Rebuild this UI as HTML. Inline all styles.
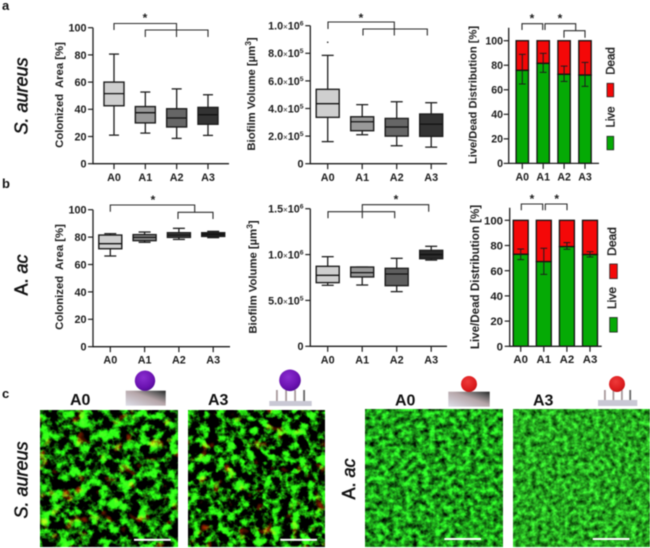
<!DOCTYPE html>
<html lang="en">
<head>
<meta charset="utf-8">
<title>Biofilm charts</title>
<style>
html,body{margin:0;padding:0;background:#fff;width:650px;height:548px;overflow:hidden}
svg{display:block;font-family:"Liberation Sans",sans-serif;filter:blur(.45px)}
</style>
</head>
<body>
<svg id="figure" width="650" height="548" viewBox="0 0 650 548" xmlns="http://www.w3.org/2000/svg">
<defs>
<filter id="saureus" x="0" y="0" width="100%" height="100%" color-interpolation-filters="sRGB">
  <feTurbulence type="fractalNoise" baseFrequency=".1" numOctaves="5" seed="7" result="n"/>
  <feColorMatrix in="n" type="matrix" values=".7 0 0 0 -.29  4.2 0 0 0 -1.74  .35 0 0 0 -.15  0 0 0 0 1" result="g"/>
  <feTurbulence type="fractalNoise" baseFrequency=".08" numOctaves="2" seed="21" result="m"/>
  <feColorMatrix in="m" type="matrix" values="3 0 0 0 -1.85  .8 0 0 0 -.5  0 0 0 0 0  0 0 0 0 1" result="r"/>
  <feBlend in="g" in2="r" mode="screen"/>
</filter>
<filter id="saureus2" x="0" y="0" width="100%" height="100%" color-interpolation-filters="sRGB">
  <feTurbulence type="fractalNoise" baseFrequency=".11" numOctaves="5" seed="31" result="n"/>
  <feColorMatrix in="n" type="matrix" values=".7 0 0 0 -.3  4.2 0 0 0 -1.8  .35 0 0 0 -.16  0 0 0 0 1" result="g"/>
  <feTurbulence type="fractalNoise" baseFrequency=".08" numOctaves="2" seed="5" result="m"/>
  <feColorMatrix in="m" type="matrix" values="3 0 0 0 -1.9  .8 0 0 0 -.52  0 0 0 0 0  0 0 0 0 1" result="r"/>
  <feBlend in="g" in2="r" mode="screen"/>
</filter>
<filter id="aac" x="0" y="0" width="100%" height="100%" color-interpolation-filters="sRGB">
  <feTurbulence type="fractalNoise" baseFrequency=".17" numOctaves="4" seed="11"/>
  <feColorMatrix type="matrix" values=".35 0 0 0 -.06  1.7 0 0 0 -.23  .3 0 0 0 -.05  0 0 0 0 1"/>
</filter>
<filter id="aac2" x="0" y="0" width="100%" height="100%" color-interpolation-filters="sRGB">
  <feTurbulence type="fractalNoise" baseFrequency=".19" numOctaves="4" seed="42"/>
  <feColorMatrix type="matrix" values=".4 0 0 0 -.05  1.35 0 0 0 -.02  .35 0 0 0 -.05  0 0 0 0 1"/>
</filter>
<linearGradient id="flat-surface" x1="0" y1="1" x2="1" y2="0">
  <stop offset="0" stop-color="#dfe0ea"/><stop offset=".55" stop-color="#b5a5a8"/><stop offset=".85" stop-color="#555"/><stop offset="1" stop-color="#222"/>
</linearGradient>
<radialGradient id="purple-ball" cx=".42" cy=".35" r=".7">
  <stop offset="0" stop-color="#8a2ed0"/><stop offset=".7" stop-color="#6a12b0"/><stop offset="1" stop-color="#4d0a90"/>
</radialGradient>
<radialGradient id="red-ball" cx=".42" cy=".35" r=".7">
  <stop offset="0" stop-color="#ee3a3a"/><stop offset=".7" stop-color="#dc1c1e"/><stop offset="1" stop-color="#bb1416"/>
</radialGradient>
</defs>
<rect width="650" height="548" fill="#fff"/>

<text x="2" y="10" font-size="13" font-weight="bold" fill="#111">a</text>
<text x="2" y="188" font-size="13" font-weight="bold" fill="#111">b</text>
<text x="2" y="398" font-size="13" font-weight="bold" fill="#111">c</text>

<text transform="translate(27.5,96) rotate(-90)" text-anchor="middle" font-size="18" font-style="italic" stroke="#111" stroke-width=".5" fill="#111">S. aureus</text>
<text transform="translate(27.5,275) rotate(-90)" text-anchor="middle" font-size="18" stroke="#111" stroke-width=".5" fill="#111">A. <tspan font-style="italic">ac</tspan></text>
<text transform="translate(27.5,480) rotate(-90)" text-anchor="middle" font-size="18" font-style="italic" stroke="#111" stroke-width=".5" fill="#111">S. aureus</text>
<text transform="translate(355,479) rotate(-90)" text-anchor="middle" font-size="18" stroke="#111" stroke-width=".5" fill="#111">A. <tspan font-style="italic">ac</tspan></text>

<g id="charts"></g>

<g>
  <text x="70" y="405" font-size="16" font-weight="bold" fill="#111">A0</text>
  <text x="208" y="405" font-size="16" font-weight="bold" fill="#111">A3</text>
  <text x="395" y="405.5" font-size="16" font-weight="bold" fill="#111">A0</text>
  <text x="533" y="405.5" font-size="16" font-weight="bold" fill="#111">A3</text>

  <rect x="40" y="410" width="137.7" height="136.7" filter="url(#saureus)"/>
  <rect x="188.3" y="410" width="136.7" height="136.7" filter="url(#saureus2)"/>
  <rect x="365" y="409.3" width="137.7" height="137.4" filter="url(#aac)"/>
  <rect x="513" y="409.3" width="137" height="137.4" filter="url(#aac2)"/>

  <rect x="134" y="538.8" width="36.7" height="2" fill="#fff"/>
  <rect x="280.3" y="538.8" width="36.7" height="2" fill="#fff"/>
  <rect x="444.3" y="538" width="36.7" height="2" fill="#fff"/>
  <rect x="592.7" y="538" width="36.7" height="2" fill="#fff"/>

  <g>
    <rect x="125.7" y="390.7" width="40" height="15" fill="url(#flat-surface)"/>
    <circle cx="145" cy="380.7" r="10.2" fill="url(#purple-ball)"/>
  </g>
  <g fill="#a89a9c">
    <rect x="276" y="390" width="1.8" height="12"/>
    <rect x="285.2" y="390" width="1.8" height="12"/>
    <rect x="294.2" y="390" width="1.8" height="12"/>
    <rect x="303.2" y="390" width="1.8" height="12" fill="#666"/>
    <rect x="269.3" y="401" width="42.4" height="5" fill="#c9c8d4"/>
    <circle cx="290" cy="380.3" r="10.8" fill="url(#purple-ball)"/>
  </g>
  <g>
    <rect x="448.3" y="391.7" width="41.4" height="15" fill="url(#flat-surface)"/>
    <circle cx="469" cy="384" r="8" fill="url(#red-ball)"/>
  </g>
  <g fill="#a89a9c">
    <rect x="604" y="390" width="1.8" height="11"/>
    <rect x="612.5" y="390" width="1.8" height="11"/>
    <rect x="621" y="390" width="1.8" height="11"/>
    <rect x="629.3" y="390" width="1.8" height="11" fill="#666"/>
    <rect x="598" y="400" width="39.3" height="6" fill="#c9c8d4"/>
    <circle cx="617" cy="384" r="8" fill="url(#red-ball)"/>
  </g>
</g>
</svg>
<script>
const categories = ['A0', 'A1', 'A2', 'A3'];

const areaTicks = [0, 20, 40, 60, 80, 100];
const areaTickLabels = ['0', '20', '40', '60', '80', '100'];
const volumeATicks = [0, 2e5, 4e5, 6e5, 8e5, 1e6];
const volumeATickLabels = ['0', '2.0|5', '4.0|5', '6.0|5', '8.0|5', '1.0|6'];
const volumeBTicks = [0, 5e5, 1e6, 1.5e6];
const volumeBTickLabels = ['0', '5.0|5', '1.0|6', '1.5|6'];

const saAreaMin = [21, 22.5, 18.6, 20.8];
const saAreaQ1 = [42.6, 30, 27, 29];
const saAreaMedian = [51.5, 37.5, 33.6, 36];
const saAreaQ3 = [60, 42, 40.4, 41.4];
const saAreaMax = [80.6, 52.7, 55, 50.7];

const saVolumeMin = [1.6e5, 2.1e5, 1.3e5, 1.2e5];
const saVolumeQ1 = [3.36e5, 2.39e5, 2.0e5, 1.98e5];
const saVolumeMedian = [4.35e5, 3.04e5, 2.66e5, 2.87e5];
const saVolumeQ3 = [5.39e5, 3.4e5, 3.28e5, 3.6e5];
const saVolumeMax = [7.85e5, 4.28e5, 4.49e5, 4.42e5];
const saVolumeOutliers = [8.8e5, null, null, null];

const saLive = [75.8, 81.5, 72.6, 72];
const saLiveErrLow = [64.7, 74.2, 66.8, 62.8];
const saLiveErrHigh = [88.9, 89.7, 79.3, 82.3];

const acAreaMin = [66.2, 76.2, 78.3, 79.6];
const acAreaQ1 = [71.5, 77.4, 79.8, 80.5];
const acAreaMedian = [75.2, 79.8, 81.5, 82];
const acAreaQ3 = [81.5, 81.8, 83.2, 83.2];
const acAreaMax = [82.5, 83.7, 86.4, 84.2];

const acVolumeMin = [6.65e5, 6.68e5, 5.96e5, 9.4e5];
const acVolumeQ1 = [6.94e5, 7.56e5, 6.61e5, 9.55e5];
const acVolumeMedian = [7.74e5, 8.03e5, 7.88e5, 1.0e6];
const acVolumeQ3 = [8.72e5, 8.64e5, 8.5e5, 1.046e6];
const acVolumeMax = [9.77e5, 8.64e5, 9.59e5, 1.09e6];

const acLive = [73, 67.2, 79.1, 72.8];
const acLiveErrLow = [68.8, 57.1, 77, 70.9];
const acLiveErrHigh = [77.2, 77.8, 82.3, 75.1];

const DARK = '#1c1c1c';
const NS = 'http://www.w3.org/2000/svg';
const chartsRoot = document.getElementById('charts');

function make(parent, tag, name, attrs, text) {
  const el = document.createElementNS(NS, tag);
  
  
  for (const k in attrs) el.setAttribute(k, attrs[k]);
  if (text !== undefined) el.textContent = text;
  parent.appendChild(el);
  return el;
}
function linear(d0, d1, r0, r1) {
  return function (v) { return r0 + (v - d0) / (d1 - d0) * (r1 - r0); };
}
function line(g, name, x1, y1, x2, y2, w, color) {
  return make(g, 'line', name, { x1: x1, y1: y1, x2: x2, y2: y2, stroke: color || DARK, 'stroke-width': w || 1.2 });
}
function tickText(g, label, x, y, size) {
  const t = make(g, 'text', 'y-tick-label', { x: x, y: y, 'text-anchor': 'end', 'font-size': size, 'font-weight': 'bold', fill: DARK });
  const parts = label.split('|');
  if (parts.length === 1) { t.textContent = label; return; }
  const a = document.createElementNS(NS, 'tspan');
  a.textContent = parts[0];
  t.appendChild(a);
  const b = document.createElementNS(NS, 'tspan');
  b.setAttribute('font-size', size - 3);
  b.setAttribute('font-weight', 'normal');
  b.textContent = '\u00d7';
  t.appendChild(b);
  const c = document.createElementNS(NS, 'tspan');
  c.textContent = '10';
  t.appendChild(c);
  const d = document.createElementNS(NS, 'tspan');
  d.setAttribute('font-size', size - 4);
  d.setAttribute('dy', -4);
  d.textContent = parts[1];
  t.appendChild(d);
}
function axes(g, c, yScale, xScale) {
  line(g, 'y-axis', c.axisX, c.axisTop, c.axisX, c.y0 + .6, 1.3);
  line(g, 'x-axis', c.axisX, c.y0, c.xEnd, c.y0, 1.3);
  c.ticks.forEach(function (v, i) {
    const y = yScale(v);
    line(g, 'y-tick', c.axisX - 5, y, c.axisX, y, 1.2);
    tickText(g, c.tickLabels[i], c.labelX, y + c.fontSize * .36, c.fontSize);
  });
  categories.forEach(function (cat, i) {
    const x = xScale(i);
    line(g, 'x-tick', x, c.y0, x, c.y0 + 5.5, 1.2);
    make(g, 'text', 'x-tick-label', { x: x, y: c.xLabelY, 'text-anchor': 'middle', 'font-size': c.fontSize, 'font-weight': 'bold', fill: DARK }, cat);
  });
}
function yTitle(g, x, y, size, html, sup, tail) {
  const t = make(g, 'text', 'y-axis-title', { transform: 'translate(' + x + ',' + y + ') rotate(-90)', 'text-anchor': 'middle', 'font-size': size, 'font-weight': 'bold', fill: DARK, 'xml:space': 'preserve' });
  t.style.whiteSpace = 'pre';
  t.appendChild(document.createTextNode(html));
  if (sup) {
    const s = document.createElementNS(NS, 'tspan');
    s.setAttribute('font-size', size - 3);
    s.setAttribute('dy', -4);
    s.textContent = sup;
    t.appendChild(s);
    const e = document.createElementNS(NS, 'tspan');
    e.setAttribute('dy', 4);
    e.textContent = tail;
    t.appendChild(e);
  }
}
function bracket(g, x1, x2, y, legL, legR) {
  make(g, 'path', 'significance-bracket', { d: 'M' + x1 + ' ' + legL + 'V' + y + 'H' + x2 + 'V' + legR, fill: 'none', stroke: '#2a2a2a', 'stroke-width': 1.1 });
}
function star(g, x, y) {
  make(g, 'text', 'significance-star', { x: x, y: y, 'text-anchor': 'middle', 'font-size': 12, 'font-weight': 'bold', fill: DARK }, '*');
}
function boxChart(c) {
  const g = make(chartsRoot, 'g', c.name, {});
  const yScale = linear(0, c.domainMax, c.y0, c.yMaxPx);
  const xScale = function (i) { return c.xFirst + c.xStep * i; };
  axes(g, c, yScale, xScale);
  categories.forEach(function (cat, i) {
    const x = xScale(i);
    const box = make(g, 'g', 'box-' + cat.toLowerCase(), {});
    line(box, 'whisker', x, yScale(c.min[i]), x, yScale(c.max[i]), 1.3);
    line(box, 'whisker-cap-low', x - c.capW / 2, yScale(c.min[i]), x + c.capW / 2, yScale(c.min[i]), 1.3);
    line(box, 'whisker-cap-high', x - c.capW / 2, yScale(c.max[i]), x + c.capW / 2, yScale(c.max[i]), 1.3);
    make(box, 'rect', 'box-body', { x: x - c.boxW / 2, y: yScale(c.q3[i]), width: c.boxW, height: yScale(c.q1[i]) - yScale(c.q3[i]), fill: c.fills[i], stroke: DARK, 'stroke-width': 1.4 });
    line(box, 'median-line', x - c.boxW / 2, yScale(c.median[i]), x + c.boxW / 2, yScale(c.median[i]), 1.3, '#111');
    if (c.outliers && c.outliers[i] !== null) {
      make(box, 'circle', 'outlier-point', { cx: x, cy: yScale(c.outliers[i]), r: .8, fill: DARK });
    }
  });
  return g;
}
function stackChart(c) {
  const g = make(chartsRoot, 'g', c.name, {});
  const yScale = linear(0, 100, c.y0, c.yMaxPx);
  const xScale = function (i) { return c.xFirst + c.xStep * i; };
  categories.forEach(function (cat, i) {
    const x = xScale(i);
    make(g, 'rect', 'dead-bar-' + cat.toLowerCase(), { x: x - c.barW / 2, y: yScale(100), width: c.barW, height: yScale(c.live[i]) - yScale(100), fill: '#f40808', stroke: '#111', 'stroke-width': 1.3 });
    make(g, 'rect', 'live-bar-' + cat.toLowerCase(), { x: x - c.barW / 2, y: yScale(c.live[i]), width: c.barW, height: yScale(0) - yScale(c.live[i]), fill: '#05aa05', stroke: '#111', 'stroke-width': 1.3 });
    line(g, 'error-bar', x, yScale(c.errLow[i]), x, yScale(c.errHigh[i]), 1);
    line(g, 'error-cap-low', x - 3.4, yScale(c.errLow[i]), x + 3.4, yScale(c.errLow[i]), 1);
    line(g, 'error-cap-high', x - 3.4, yScale(c.errHigh[i]), x + 3.4, yScale(c.errHigh[i]), 1);
  });
  axes(g, c, yScale, xScale);
  return g;
}
function legend(g, swatchX, swatchW, deadY, liveY, swatchH, textX, deadTextY, liveTextY, size) {
  make(g, 'rect', 'legend-swatch-dead', { x: swatchX, y: deadY, width: swatchW, height: swatchH, fill: '#f40808', stroke: '#222', 'stroke-width': .8 });
  make(g, 'rect', 'legend-swatch-live', { x: swatchX, y: liveY, width: swatchW, height: swatchH, fill: '#05aa05', stroke: '#222', 'stroke-width': .8 });
  make(g, 'text', 'legend-label-dead', { transform: 'translate(' + textX + ',' + deadTextY + ') rotate(-90)', 'text-anchor': 'middle', 'font-size': size, fill: DARK, stroke: DARK, 'stroke-width': .4 }, 'Dead');
  make(g, 'text', 'legend-label-live', { transform: 'translate(' + textX + ',' + liveTextY + ') rotate(-90)', 'text-anchor': 'middle', 'font-size': size, fill: DARK, stroke: DARK, 'stroke-width': .4 }, 'Live');
}

const g1 = boxChart({ name: 'colonized-area-aureus-chart', axisX: 93, axisTop: 27.7, y0: 163.7, yMaxPx: 27.7, domainMax: 100, xFirst: 114, xStep: 31.33, xEnd: 229, boxW: 20, capW: 10, labelX: 86.5, xLabelY: 181, fontSize: 10.8, ticks: areaTicks, tickLabels: areaTickLabels, min: saAreaMin, q1: saAreaQ1, median: saAreaMedian, q3: saAreaQ3, max: saAreaMax, fills: ['#cfcfcf', '#999', '#666', '#333'] });
yTitle(g1, 63, 95, 11.3, 'Colonized  Area [%]');
bracket(g1, 114, 176.5, 23.5, 30, 37);
bracket(g1, 145.3, 208, 30, 37, 37);
star(g1, 145, 22);

const g2 = boxChart({ name: 'biofilm-volume-aureus-chart', axisX: 310.3, axisTop: 25.7, y0: 163.7, yMaxPx: 25.7, domainMax: 1e6, xFirst: 327.7, xStep: 34.5, xEnd: 447, boxW: 23, capW: 12, labelX: 303.5, xLabelY: 181, fontSize: 10.8, ticks: volumeATicks, tickLabels: volumeATickLabels, min: saVolumeMin, q1: saVolumeQ1, median: saVolumeMedian, q3: saVolumeQ3, max: saVolumeMax, outliers: saVolumeOutliers, fills: ['#cfcfcf', '#999', '#666', '#333'] });
yTitle(g2, 255, 94, 11.3, 'Biofilm Volume [\u00b5m', '3', ']');
bracket(g2, 328, 394.3, 22, 29, 35.5);
bracket(g2, 363, 427.3, 29, 35.5, 35.5);
star(g2, 361, 22);

const g3 = stackChart({ name: 'live-dead-aureus-chart', axisX: 508.7, axisTop: 27.7, y0: 163.4, yMaxPx: 40.7, xFirst: 522.3, xStep: 20.9, xEnd: 599, barW: 12.4, labelX: 503, xLabelY: 180.5, fontSize: 10.6, ticks: areaTicks, tickLabels: areaTickLabels, live: saLive, errLow: saLiveErrLow, errHigh: saLiveErrHigh });
yTitle(g3, 476.5, 95, 11.1, 'Live/Dead Distribution [%]');
bracket(g3, 522, 542.7, 23.7, 30, 30);
bracket(g3, 545, 575.7, 23.7, 30, 30.7);
bracket(g3, 564, 585, 30.7, 37.7, 37.7);
star(g3, 532, 22.5);
star(g3, 560, 22.5);
legend(g3, 607, 6.7, 83.3, 136.3, 13.5, 614.5, 61, 117, 11.5);

const g4 = boxChart({ name: 'colonized-area-ac-chart', axisX: 93, axisTop: 209.7, y0: 346.7, yMaxPx: 209.7, domainMax: 100, xFirst: 110.3, xStep: 34.3, xEnd: 230, boxW: 23, capW: 12, labelX: 86.5, xLabelY: 363.5, fontSize: 10.8, ticks: areaTicks, tickLabels: areaTickLabels, min: acAreaMin, q1: acAreaQ1, median: acAreaMedian, q3: acAreaQ3, max: acAreaMax, fills: ['#cfcfcf', '#888', '#444', '#222'] });
yTitle(g4, 63, 277, 11.3, 'Colonized  Area [%]');
bracket(g4, 110.3, 194.7, 205, 211.7, 212.3);
bracket(g4, 178, 213, 212.3, 219, 219);
star(g4, 153, 204);

const g5 = boxChart({ name: 'biofilm-volume-ac-chart', axisX: 310.3, axisTop: 208.7, y0: 346.3, yMaxPx: 208.7, domainMax: 1.5e6, xFirst: 327.7, xStep: 34.5, xEnd: 447, boxW: 23, capW: 12, labelX: 303.5, xLabelY: 363.5, fontSize: 10.8, ticks: volumeBTicks, tickLabels: volumeBTickLabels, min: acVolumeMin, q1: acVolumeQ1, median: acVolumeMedian, q3: acVolumeQ3, max: acVolumeMax, fills: ['#cfcfcf', '#999', '#5e5e5e', '#2a2a2a'] });
yTitle(g5, 256.7, 277, 11.3, 'Biofilm Volume [\u00b5m', '3', ']');
bracket(g5, 362.3, 428.7, 204.7, 218.3, 211.7);
bracket(g5, 328, 394.7, 211.7, 218.3, 218.3);
star(g5, 396, 203.5);

const g6 = stackChart({ name: 'live-dead-ac-chart', axisX: 509.7, axisTop: 207.7, y0: 346.3, yMaxPx: 220.3, xFirst: 520.7, xStep: 23.1, xEnd: 601.7, barW: 15, labelX: 503, xLabelY: 363, fontSize: 11.4, ticks: areaTicks, tickLabels: areaTickLabels, live: acLive, errLow: acLiveErrLow, errHigh: acLiveErrHigh });
yTitle(g6, 479, 277, 11.6, 'Live/Dead Distribution [%]');
bracket(g6, 521.3, 542.7, 204, 210.3, 210.3);
bracket(g6, 545.3, 567, 204, 210.3, 210.3);
star(g6, 532, 203);
star(g6, 556.7, 203);
legend(g6, 609.7, 7.6, 264, 317.5, 14.6, 616, 241.5, 298, 12);
</script>
</body>
</html>
